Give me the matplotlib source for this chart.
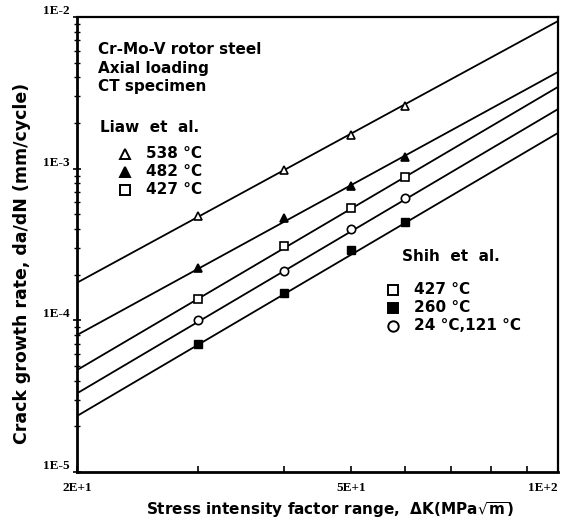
import numpy as np
import matplotlib.pyplot as plt
from matplotlib.ticker import LogLocator, NullFormatter, FixedLocator

plt.rcParams['font.family'] = ['DejaVu Sans']
plt.rcParams['mathtext.fontset'] = 'dejavusans'
plt.rcParams['mathtext.default'] = 'bf'

# stress intensity factor range of the measured points (MPa sqrt(m))
dK = [30, 40, 50, 60]

# da/dN (mm/cycle)
liaw_538 = [4.9e-4, 9.8e-4, 1.67e-3, 2.6e-3]
liaw_482 = [2.2e-4, 4.7e-4, 7.7e-4, 1.19e-3]
t427 = [1.38e-4, 3.1e-4, 5.5e-4, 8.8e-4]
shih_24_121 = [1.0e-4, 2.1e-4, 4.0e-4, 6.4e-4]
shih_260 = [7.0e-5, 1.52e-4, 2.9e-4, 4.45e-4]

# Paris-law fit lines, values at the ends of the dK range
fit_dK = [20, 100]
fit_538 = [1.77e-4, 9.4e-3]
fit_482 = [8.0e-5, 4.34e-3]
fit_427 = [4.7e-5, 3.46e-3]
fit_24_121 = [3.3e-5, 2.47e-3]
fit_260 = [2.34e-5, 1.72e-3]

W, H = 571, 522
fig = plt.figure(figsize=(W / 100, H / 100), dpi=100)
ax = fig.add_axes([77 / W, (H - 472) / H, 481 / W, 455 / H])


def px(x, y):
    return x / W, 1 - y / H


for f in [fit_538, fit_482, fit_427, fit_24_121, fit_260]:
    ax.plot(fit_dK, f, color='black', lw=1.3)

mk = dict(color='black', ls='none', markersize=6, markeredgewidth=1.2)
ax.plot(dK, liaw_538, marker='^', markerfacecolor='white', **mk)
ax.plot(dK, liaw_482, marker='^', **mk)
ax.plot(dK, t427, marker='s', markerfacecolor='white', markersize=5.5,
        color='black', ls='none', markeredgewidth=1.2)
ax.plot(dK, shih_24_121, marker='o', markerfacecolor='white', **mk)
ax.plot(dK, shih_260, marker='s', markersize=5.5, color='black', ls='none')

ax.set_xscale('log')
ax.set_yscale('log')
ax.set_xlim(20, 100)
ax.set_ylim(1e-5, 1e-2)

for s in ['left', 'bottom']:
    ax.spines[s].set_linewidth(2.0)
for s in ['top', 'right']:
    ax.spines[s].set_linewidth(1.6)

ax.xaxis.set_major_locator(FixedLocator([20, 50, 100]))
ax.xaxis.set_minor_locator(FixedLocator([30, 40, 60, 70, 80, 90]))
ax.xaxis.set_minor_formatter(NullFormatter())
ax.set_xticklabels(['2E+1', '5E+1', '1E+2'], fontfamily='Liberation Serif',
                   fontweight='bold', fontsize=9.5)
ax.get_xticklabels()[-1].set_ha('right')

ax.yaxis.set_major_locator(FixedLocator([1e-5, 1e-4, 1e-3, 1e-2]))
ax.yaxis.set_minor_locator(LogLocator(base=10, subs=np.arange(2, 10)))
ax.yaxis.set_minor_formatter(NullFormatter())
ax.set_yticklabels(['1E-5', '1E-4', '1E-3', '1E-2'], fontfamily='Liberation Serif',
                   fontweight='bold', fontsize=9.5, va='bottom')

ax.tick_params(axis='x', which='both', direction='in', length=4, width=1.2, pad=7)
ax.tick_params(axis='y', which='major', direction='inout', length=6, width=1.2, pad=2)
ax.tick_params(axis='y', which='minor', direction='inout', length=4, width=1.0)

fig.text(*px(330, 510), r'Stress intensity factor range,  $\Delta$K(MPa$\sqrt{m}$)',
         ha='center', va='center', fontsize=11, fontweight='bold')
fig.text(*px(22, 263), 'Crack growth rate, da/dN (mm/cycle)', rotation=90,
         ha='center', va='center', fontsize=12.5, fontweight='bold')

tk = dict(ha='left', va='center', fontsize=11, fontweight='bold')
fig.text(*px(98, 49), 'Cr-Mo-V rotor steel', **tk)
fig.text(*px(98, 68), 'Axial loading', **tk)
fig.text(*px(98, 87), 'CT specimen', **tk)

fig.text(*px(100, 127), 'Liaw  et  al.', **tk)
liaw_keys = [('^', 'white', '538 °C', 154), ('^', 'black', '482 °C', 172),
             ('s', 'white', '427 °C', 190)]
for m, fc, lab, y in liaw_keys:
    ax.plot(*px(125, y), marker=m, markerfacecolor=fc, color='black', markersize=7.5,
            markeredgewidth=1.4, transform=fig.transFigure, clip_on=False)
    fig.text(*px(146, y), lab, **tk)

fig.text(*px(402, 257), 'Shih  et  al.', **tk)
shih_keys = [('s', 'white', '427 °C', 290), ('s', 'black', '260 °C', 308),
             ('o', 'white', '24 °C,121 °C', 326)]
for m, fc, lab, y in shih_keys:
    ax.plot(*px(393, y), marker=m, markerfacecolor=fc, color='black', markersize=7.5,
            markeredgewidth=1.4, transform=fig.transFigure, clip_on=False)
    fig.text(*px(414, y), lab, **tk)

fig.savefig('out.png', dpi=100)
